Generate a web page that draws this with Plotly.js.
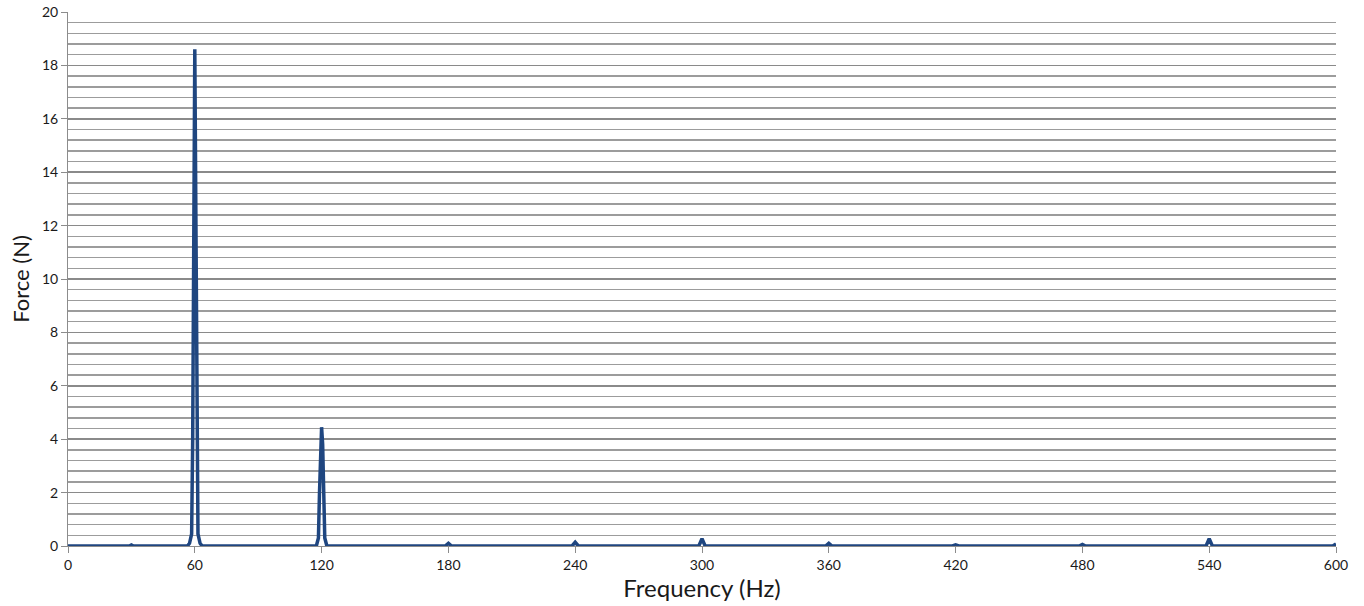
<!DOCTYPE html>
<html>
<head>
<meta charset="utf-8">
<script src="https://cdn.plot.ly/plotly-3.0.1.min.js"></script>
<style>html,body{margin:0;padding:0;background:#fff;}#chart{width:1364px;height:606px;}</style>
</head>
<body>
<div id="chart"></div>
<script>
// Frequency (Hz) and force (N)
const freq = [0, 29, 30, 31, 56.5, 57.5, 58.5, 59, 60, 61, 61.5, 62.5, 63.5,
  117.5, 118.5, 119, 119.5, 120, 120.5, 121, 121.5, 122.5,
  178.5, 180, 181.5, 238.5, 240, 241.5, 298.5, 300, 301.5,
  358.5, 360, 361.5, 418.5, 420, 421.5, 478.5, 480, 481.5,
  538.5, 540, 541.5, 598.5, 600];
const force = [0, 0, 0.04, 0, 0, 0.1, 0.45, 4, 18.6, 4, 0.45, 0.1, 0,
  0, 0.3, 2, 3.8, 4.45, 3.8, 2, 0.3, 0,
  0, 0.1, 0, 0, 0.14, 0, 0, 0.27, 0,
  0, 0.1, 0, 0, 0.04, 0, 0, 0.06, 0,
  0, 0.27, 0, 0, 0.08];
const xTicks = [0, 60, 120, 180, 240, 300, 360, 420, 480, 540, 600];
const yTicks = [0, 2, 4, 6, 8, 10, 12, 14, 16, 18, 20];

const trace = {
  x: freq, y: force, type: 'scatter', mode: 'lines',
  line: {color: '#1f4680', width: 3.5}, hoverinfo: 'skip'
};
const layout = {
  width: 1364, height: 606,
  margin: {l: 68, r: 28, t: 12, b: 60},
  paper_bgcolor: '#fff', plot_bgcolor: '#fff',
  showlegend: false,
  font: {family: 'Lato, "Open Sans", sans-serif', color: '#1a1a1a'},
  xaxis: {
    range: [0, 600], tickvals: xTicks, ticktext: xTicks.map(String),
    showgrid: false, zeroline: false, showline: true, linecolor: '#8c8c8c', linewidth: 1,
    ticks: 'outside', ticklen: 6, tickcolor: '#8c8c8c', tickwidth: 1,
    tickfont: {size: 14, color: '#1a1a1a'},
    title: {text: 'Frequency (Hz)', font: {size: 24, color: '#1a1a1a'}, standoff: 6}
  },
  yaxis: {
    range: [0, 20], tickvals: yTicks, ticktext: yTicks.map(String),
    showgrid: true, gridcolor: '#8a8a8a', gridwidth: 1.5,
    minor: {dtick: 0.4, showgrid: true, gridcolor: '#9c9c9c', gridwidth: 1.5, ticks: ''},
    zeroline: false, showline: true, linecolor: '#8c8c8c', linewidth: 1,
    ticks: 'outside', ticklen: 6, tickcolor: '#8c8c8c', tickwidth: 1,
    tickfont: {size: 14, color: '#1a1a1a'},
    title: {text: 'Force (N)', font: {size: 22, color: '#1a1a1a'}, standoff: 6}
  }
};
Plotly.newPlot('chart', [trace], layout, {displayModeBar: false, staticPlot: true});
</script>
</body>
</html>
